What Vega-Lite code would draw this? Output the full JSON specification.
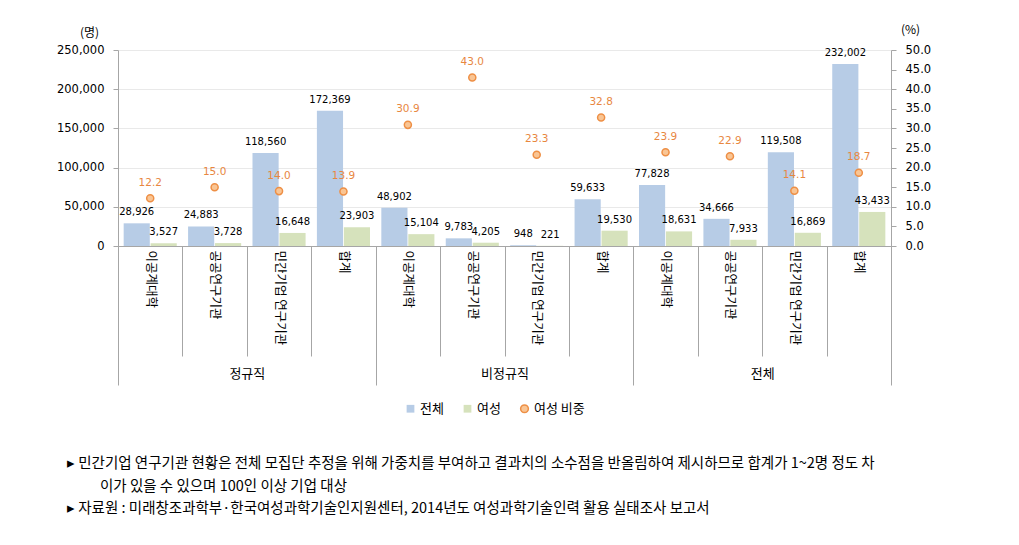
{
  "$schema": "https://vega.github.io/schema/vega-lite/v6.json",
  "width": 773,
  "height": 196,
  "autosize": {"type": "none"},
  "padding": {"left": 118, "top": 50, "right": 128, "bottom": 299},
  "background": "white",
  "config": {
    "view": {"stroke": null},
    "axis": {"domainColor": "#a6a6a6", "tickColor": "#a6a6a6", "labelColor": "#000000", "titleColor": "#000000", "titleFontWeight": "normal"}
  },
  "data": {
    "values": [
      {"id": "정규직|이공계대학", "group": "정규직", "전체": 28926, "여성": 3527, "비중": 12.2},
      {"id": "정규직|공공연구기관", "group": "정규직", "전체": 24883, "여성": 3728, "비중": 15.0},
      {"id": "정규직|민간기업 연구기관", "group": "정규직", "전체": 118560, "여성": 16648, "비중": 14.0},
      {"id": "정규직|합계", "group": "정규직", "전체": 172369, "여성": 23903, "비중": 13.9},
      {"id": "비정규직|이공계대학", "group": "비정규직", "전체": 48902, "여성": 15104, "비중": 30.9},
      {"id": "비정규직|공공연구기관", "group": "비정규직", "전체": 9783, "여성": 4205, "비중": 43.0},
      {"id": "비정규직|민간기업 연구기관", "group": "비정규직", "전체": 948, "여성": 221, "비중": 23.3},
      {"id": "비정규직|합계", "group": "비정규직", "전체": 59633, "여성": 19530, "비중": 32.8},
      {"id": "전체|이공계대학", "group": "전체", "전체": 77828, "여성": 18631, "비중": 23.9},
      {"id": "전체|공공연구기관", "group": "전체", "전체": 34666, "여성": 7933, "비중": 22.9},
      {"id": "전체|민간기업 연구기관", "group": "전체", "전체": 119508, "여성": 16869, "비중": 14.1},
      {"id": "전체|합계", "group": "전체", "전체": 232002, "여성": 43433, "비중": 18.7}
    ]
  },
  "title": {
    "text": [
      "▸ 민간기업 연구기관 현황은 전체 모집단 추정을 위해 가중치를 부여하고 결과치의 소수점을 반올림하여 제시하므로 합계가 1~2명 정도 차",
      "\u2800\u2800\u2800이가 있을 수 있으며 100인 이상 기업 대상",
      "▸ 자료원 : 미래창조과학부·한국여성과학기술인지원센터, 2014년도 여성과학기술인력 활용 실태조사 보고서"
    ],
    "orient": "bottom",
    "anchor": "start",
    "frame": "group",
    "dx": -51,
    "offset": 41,
    "font": "Noto Sans CJK KR",
    "fontSize": 14.5,
    "fontWeight": "normal",
    "lineHeight": 22.5,
    "color": "#000000"
  },
  "layer": [
    {
      "layer": [
        {
          "transform": [{"fold": ["전체", "여성"], "as": ["series", "value"]}],
          "encoding": {
            "x": {
              "field": "id", "type": "nominal",
              "scale": {"domain": ["정규직|이공계대학","정규직|공공연구기관","정규직|민간기업 연구기관","정규직|합계","비정규직|이공계대학","비정규직|공공연구기관","비정규직|민간기업 연구기관","비정규직|합계","전체|이공계대학","전체|공공연구기관","전체|민간기업 연구기관","전체|합계"], "paddingInner": 0, "paddingOuter": 0},
              "axis": {
                "title": null,
                "labelExpr": "split(datum.value, '|')[1]",
                "labelAngle": 90,
                "labelAlign": "left",
                "labelBaseline": "middle",
                "labelFont": "Noto Sans CJK KR",
                "labelFontSize": 12.5,
                "labelLimit": 300,
                "tickBand": "extent",
                "tickSize": 110,
                "labelPadding": -106,
                "labelOverlap": false
              }
            },
            "xOffset": {"field": "series", "type": "nominal", "sort": ["전체", "여성"], "scale": {"paddingOuter": 0.21, "paddingInner": 0.03}},
            "y": {
              "field": "value", "type": "quantitative",
              "scale": {"domain": [0, 250000]},
              "axis": {
                "values": [0, 50000, 100000, 150000, 200000, 250000],
                "format": ",.0f",
                "grid": true,
                "gridColor": "#e9e9e9",
                "labelFont": "DejaVu Sans",
                "labelFontSize": 11.5,
                "labelPadding": 9,
                "tickSize": 5,
                "title": "(명)",
                "titleAngle": 0,
                "titleX": -29,
                "titleY": -18,
                "titleAlign": "center",
                "titleBaseline": "middle",
                "titleFont": "Noto Sans CJK KR",
                "titleFontSize": 12
              }
            }
          },
          "layer": [
            {
              "mark": {"type": "bar"},
              "encoding": {
                "color": {
                  "field": "series", "type": "nominal",
                  "scale": {"domain": ["전체", "여성", "여성 비중"], "range": ["#b7cce6", "#d6e2bc", "#f9c594"]},
                  "legend": {
                    "orient": "none",
                    "legendX": 286,
                    "legendY": 352,
                    "direction": "horizontal",
                    "title": null,
                    "labelFont": "Noto Sans CJK KR",
                    "labelFontSize": 13,
                    "symbolSize": 60,
                    "symbolType": "square",
                    "columnPadding": 16,
                    "labelOffset": 3,
                    "encode": {
                      "symbols": {
                        "update": {
                          "shape": {"signal": "datum.value === '여성 비중' ? 'circle' : 'square'"},
                          "stroke": {"signal": "datum.value === '여성 비중' ? '#ee8f45' : 'transparent'"},
                          "strokeWidth": {"value": 1.5}
                        }
                      }
                    }
                  }
                }
              }
            },
            {
              "mark": {"type": "text", "baseline": "alphabetic", "dy": -8, "font": "DejaVu Sans", "fontSize": 10, "color": "#000000"},
              "encoding": {
                "text": {"field": "value", "type": "quantitative", "format": ","}
              }
            }
          ]
        },
        {
          "encoding": {
            "x": {"field": "id", "type": "nominal"},
            "y": {
              "field": "비중", "type": "quantitative",
              "scale": {"domain": [0, 50]},
              "axis": {
                "orient": "right",
                "values": [0, 5, 10, 15, 20, 25, 30, 35, 40, 45, 50],
                "format": ".1f",
                "grid": false,
                "labelFont": "DejaVu Sans",
                "labelFontSize": 11.5,
                "labelPadding": 9,
                "tickSize": 5,
                "title": "(%)",
                "titleAngle": 0,
                "titleX": 19,
                "titleY": -21,
                "titleAlign": "center",
                "titleBaseline": "middle",
                "titleFont": "Noto Sans CJK KR",
                "titleFontSize": 12
              }
            }
          },
          "layer": [
            {
              "mark": {"type": "point", "filled": true, "size": 50, "stroke": "#ee8f45", "strokeWidth": 1.5, "opacity": 1},
              "encoding": {
                "color": {"datum": "여성 비중"}
              }
            },
            {
              "mark": {"type": "text", "baseline": "alphabetic", "dy": -12.5, "font": "DejaVu Sans", "fontSize": 10.5, "color": "#e8873f"},
              "encoding": {
                "text": {"field": "비중", "type": "quantitative", "format": ".1f"}
              }
            }
          ]
        }
      ],
      "resolve": {"scale": {"y": "independent"}}
    },
    {
      "mark": {"type": "text", "text": ""},
      "encoding": {
        "x": {
          "field": "group", "type": "nominal",
          "scale": {"domain": ["정규직", "비정규직", "전체"], "paddingInner": 0, "paddingOuter": 0},
          "axis": {
            "orient": "bottom",
            "title": null,
            "tickBand": "extent",
            "tickSize": 139,
            "labelPadding": -18,
            "domain": false,
            "labelAngle": 0,
            "labelFont": "Noto Sans CJK KR",
            "labelFontSize": 13
          }
        }
      }
    }
  ],
  "resolve": {"scale": {"x": "independent"}}
}
